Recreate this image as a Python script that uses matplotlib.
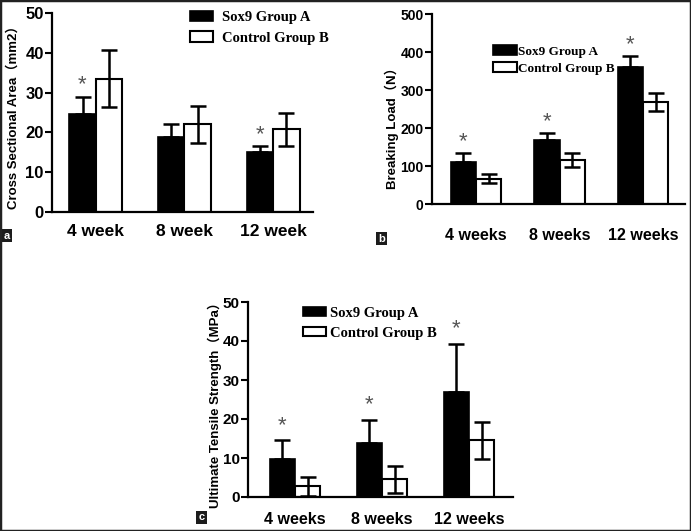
import matplotlib.pyplot as plt
import numpy as np
from matplotlib.patches import Patch, Rectangle

# Data
groups = ["Sox9 Group A", "Control Group B"]

# (a) cross sectional area
weeks_a = ["4 week", "8 week", "12 week"]
area_sox9 = [24.5, 18.8, 15.0]
area_sox9_err = [4.4, 3.4, 1.5]
area_ctrl = [33.5, 22.0, 20.8]
area_ctrl_err = [7.2, 4.6, 4.1]
area_star = [True, False, True]

# (b) breaking load
weeks_b = ["4 weeks", "8 weeks", "12 weeks"]
load_sox9 = [111, 168, 360]
load_sox9_err = [23, 19, 29]
load_ctrl = [67, 116, 268]
load_ctrl_err = [12, 19, 24]
load_star = [True, True, True]

# (c) ultimate tensile strength
weeks_c = ["4 weeks", "8 weeks", "12 weeks"]
uts_sox9 = [9.8, 13.9, 26.9]
uts_sox9_err = [4.7, 5.9, 12.4]
uts_ctrl = [2.7, 4.5, 14.5]
uts_ctrl_err = [2.4, 3.4, 4.7]
uts_star = [True, True, True]

SANS = ["Liberation Sans", "Noto Sans CJK SC", "DejaVu Sans"]
SERIF = ["Liberation Serif", "DejaVu Serif"]

W, H = 691, 531
fig = plt.figure(figsize=(W / 100, H / 100), dpi=100)


def px_axes(l, t, r, b):
    return fig.add_axes([l / W, 1 - b / H, (r - l) / W, (b - t) / H])


def panel(ax, labels, a, a_err, c, c_err, stars, ymax, step, xlim, width,
          ylabel, ylab_xy, tick_fs, xtick_fs, xpad, ylab_fs, star_off):
    x = np.arange(len(labels))
    ekw = dict(elinewidth=1.8, capthick=1.8, ecolor="black")
    ax.bar(x - width / 2, a, width, yerr=[np.zeros(len(a)), a_err],
           color="black", edgecolor="black", linewidth=1.2, capsize=6,
           error_kw=ekw, zorder=2)
    ax.bar(x + width / 2, c, width, yerr=c_err,
           color="white", edgecolor="black", linewidth=1.5, capsize=6,
           error_kw=ekw, zorder=2)
    for i, s in enumerate(stars):
        if s:
            ax.text(x[i] - width / 2, a[i] + a_err[i] + star_off, "*",
                    ha="center", va="center", fontsize=16, color="#555555",
                    fontfamily=SANS)
    ax.set_xlim(*xlim)
    ax.set_ylim(0, ymax)
    ax.set_yticks(np.arange(0, ymax + 1, step))
    ax.set_xticks(x)
    ax.set_xticklabels(labels, fontsize=xtick_fs, fontweight="bold",
                       fontfamily=SANS)
    for t in ax.get_yticklabels():
        t.set_fontsize(tick_fs)
        t.set_fontweight("bold")
        t.set_fontfamily(SANS)
    ax.tick_params(axis="x", length=0, pad=xpad)
    ax.tick_params(axis="y", length=5, width=1.5, pad=1, direction="out")
    for sp in ["top", "right"]:
        ax.spines[sp].set_visible(False)
    for sp in ["left", "bottom"]:
        ax.spines[sp].set_linewidth(1.6)
    ax.set_ylabel(ylabel, fontsize=ylab_fs, fontweight="bold",
                  fontfamily=SANS, va="center")
    ax.yaxis.set_label_coords(*ylab_xy)


def legend(ax, xy, fs, hl, hh, sp, tp):
    handles = [Patch(facecolor="black", edgecolor="black", linewidth=1.2),
               Patch(facecolor="white", edgecolor="black", linewidth=1.5)]
    ax.legend(handles, groups, loc="upper left",
              bbox_to_anchor=(xy[0] / W, 1 - xy[1] / H),
              bbox_transform=fig.transFigure, frameon=False, borderpad=0,
              borderaxespad=0, handlelength=hl, handleheight=hh,
              labelspacing=sp, handletextpad=tp,
              prop=dict(family=SERIF, weight="bold", size=fs))


def tag(letter, l, t):
    fig.patches.append(Rectangle((l / W, 1 - (t + 13) / H), 11 / W, 13 / H,
                                 transform=fig.transFigure,
                                 facecolor="#1c1c1c", edgecolor="none"))
    fig.text((l + 5.5) / W, 1 - (t + 6.5) / H, letter, color="white",
             fontsize=8, fontweight="bold", ha="center", va="center",
             fontfamily=SANS)


ax_a = px_axes(52, 13, 313, 212)
panel(ax_a, weeks_a, area_sox9, area_sox9_err, area_ctrl, area_ctrl_err,
      area_star, 50, 10, (-0.494, 2.449), 0.30,
      "Cross Sectional Area（mm2）", (-0.149, 0.49), 12, 12.5, 9, 9.5, 3)
legend(ax_a, (190, 11), 10.5, 1.6, 0.7, 0.5, 0.6)

ax_b = px_axes(432, 14, 685, 204)
panel(ax_b, weeks_b, load_sox9, load_sox9_err, load_ctrl, load_ctrl_err,
      load_star, 500, 100, (-0.527, 2.503), 0.30,
      "Breaking Load（N）", (-0.158, 0.416), 10, 11.5, 17, 9.5, 30)
legend(ax_b, (493, 45), 9.5, 1.8, 0.8, 0.35, 0.1)

ax_c = px_axes(248, 302, 513, 497)
panel(ax_c, weeks_c, uts_sox9, uts_sox9_err, uts_ctrl, uts_ctrl_err,
      uts_star, 50, 10, (-0.54, 2.506), 0.29,
      "Ultimate Tensile Strength（MPa）", (-0.125, 0.487), 11, 11.5, 11,
      9.5, 3.8)
legend(ax_c, (303, 307), 10.5, 1.6, 0.6, 0.45, 0.25)

tag("a", 1, 229)
tag("b", 376, 232)
tag("c", 196, 511)

# outer frame
fig.patches.append(Rectangle((0, 0), 1, 1, transform=fig.transFigure,
                             fill=False, edgecolor="#222222", linewidth=2.5))

fig.savefig("out.png", dpi=100)
